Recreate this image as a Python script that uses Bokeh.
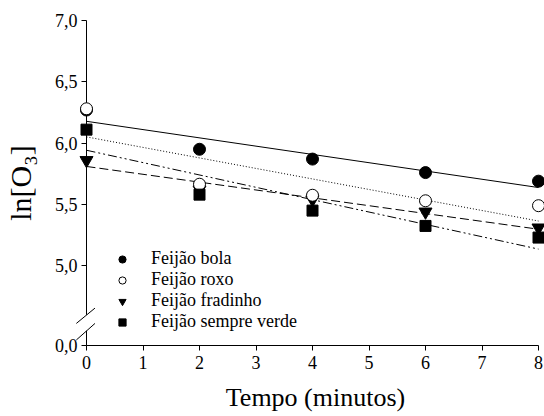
import numpy as np
from bokeh.plotting import figure
from bokeh.models import Range1d, FixedTicker, Legend, LegendItem
from bokeh.embed import file_html
from bokeh.resources import INLINE

# ---- data ----
tempo = [0, 2, 4, 6, 8]
feijao_bola = [6.27, 5.95, 5.87, 5.76, 5.69]
feijao_roxo = [6.28, 5.665, 5.575, 5.53, 5.49]
feijao_fradinho = [5.86, 5.62, 5.54, 5.44, 5.31]
feijao_sempre_verde = [6.11, 5.58, 5.45, 5.325, 5.23]
series_names = ["Feijão bola", "Feijão roxo", "Feijão fradinho", "Feijão sempre verde"]

x_ticks = [0, 1, 2, 3, 4, 5, 6, 7, 8]
y_ticks = [5.0, 5.5, 6.0, 6.5, 7.0]
y_tick_labels = ["5,0", "5,5", "6,0", "6,5", "7,0"]
zero_label = "0,0"

# broken y axis: the value 0,0 is drawn at display position Y_ZERO
Y_ZERO = 4.35
BREAK_LOW = 4.47
BREAK_HIGH = 4.60

FONT = "Liberation Serif"

p = figure(width=544, height=416,
           x_range=Range1d(0, 8.106), y_range=Range1d(Y_ZERO, 7.0),
           output_backend="svg", toolbar_location=None,
           min_border_left=85, min_border_right=0, min_border_top=20, min_border_bottom=71)
p.outline_line_color = None
p.grid.visible = False
p.background_fill_color = "white"
p.border_fill_color = "white"


def style_axis(ax):
    ax.axis_line_color = "black"
    ax.axis_line_width = 1
    ax.major_tick_line_color = "black"
    ax.major_tick_out = 5
    ax.major_tick_in = 0
    ax.minor_tick_out = 0
    ax.minor_tick_in = 0
    ax.major_label_text_font = FONT
    ax.major_label_text_font_size = "18px"
    ax.major_label_text_color = "black"


# x axis
xa = p.xaxis[0]
style_axis(xa)
xa.ticker = FixedTicker(ticks=x_ticks)
xa.bounds = (0, 8)
xa.axis_label = "Tempo (minutos)"
xa.axis_label_text_font = FONT
xa.axis_label_text_font_size = "26px"
xa.axis_label_text_font_style = "normal"
xa.axis_label_text_color = "black"
xa.axis_label_standoff = 11
xa.major_label_standoff = 5

# y axis (broken: 0,0 then 5,0 .. 7,0); its line is drawn in two pieces below
ya = p.yaxis[0]
style_axis(ya)
ya.ticker = FixedTicker(ticks=[Y_ZERO] + y_ticks)
overrides = dict(zip(y_ticks, y_tick_labels))
overrides[Y_ZERO] = zero_label
ya.major_label_overrides = overrides
ya.bounds = (Y_ZERO, 7.0)
ya.axis_line_color = None
ya.axis_label = "ln[O₃]"
ya.axis_label_text_font = FONT
ya.axis_label_text_font_size = "30px"
ya.axis_label_text_font_style = "normal"
ya.axis_label_text_color = "black"
ya.axis_label_standoff = 15
ya.major_label_standoff = 4

# y axis line pieces and break marks
p.segment(x0=[0, 0], y0=[Y_ZERO, BREAK_HIGH], x1=[0, 0], y1=[BREAK_LOW, 7.0],
          line_color="black", line_width=1, level="overlay")
p.segment(x0=[-0.18, -0.18], y0=[BREAK_HIGH - 0.07, BREAK_LOW - 0.075],
          x1=[0.15, 0.15], y1=[BREAK_HIGH + 0.055, BREAK_LOW + 0.06],
          line_color="black", line_width=1, level="overlay")

# regression lines
series = [feijao_bola, feijao_roxo, feijao_fradinho, feijao_sempre_verde]
dashes = ["solid", "1 2", "9 4", "9 3 2 3 2 3"]
xs = np.array(tempo, dtype=float)
for vals, dash in zip(series, dashes):
    slope, intercept = np.polyfit(xs, np.array(vals), 1)
    xl = [xs.min(), xs.max()]
    yl = [intercept + slope * v for v in xl]
    p.line(xl, yl, line_color="black", line_width=1, line_dash=dash)

# markers (overlay level so markers on the axis are not cut by the frame)
r_bola = p.scatter(tempo, feijao_bola, marker="circle", size=12,
                   fill_color="black", line_color="black", level="overlay")
r_frad = p.scatter(tempo, feijao_fradinho, marker="inverted_triangle", size=13,
                   fill_color="black", line_color="black", level="overlay")
r_roxo = p.scatter(tempo, feijao_roxo, marker="circle", size=12,
                   fill_color="white", line_color="black", line_width=1, level="overlay")
r_sv = p.scatter(tempo, feijao_sempre_verde, marker="square", size=11,
                 fill_color="black", line_color="black", level="overlay")

legend = Legend(items=[
    LegendItem(label=series_names[0], renderers=[r_bola]),
    LegendItem(label=series_names[1], renderers=[r_roxo]),
    LegendItem(label=series_names[2], renderers=[r_frad]),
    LegendItem(label=series_names[3], renderers=[r_sv]),
], location=(26, 13))
legend.border_line_color = None
legend.background_fill_alpha = 0
legend.padding = 0
legend.margin = 0
legend.spacing = 0
legend.glyph_width = 20
legend.glyph_height = 18
legend.label_height = 18
legend.label_standoff = 19
legend.label_text_font = FONT
legend.label_text_font_size = "18px"
legend.label_text_color = "black"
p.add_layout(legend, "center")

open("out.html", "w").write(file_html(p, INLINE))
